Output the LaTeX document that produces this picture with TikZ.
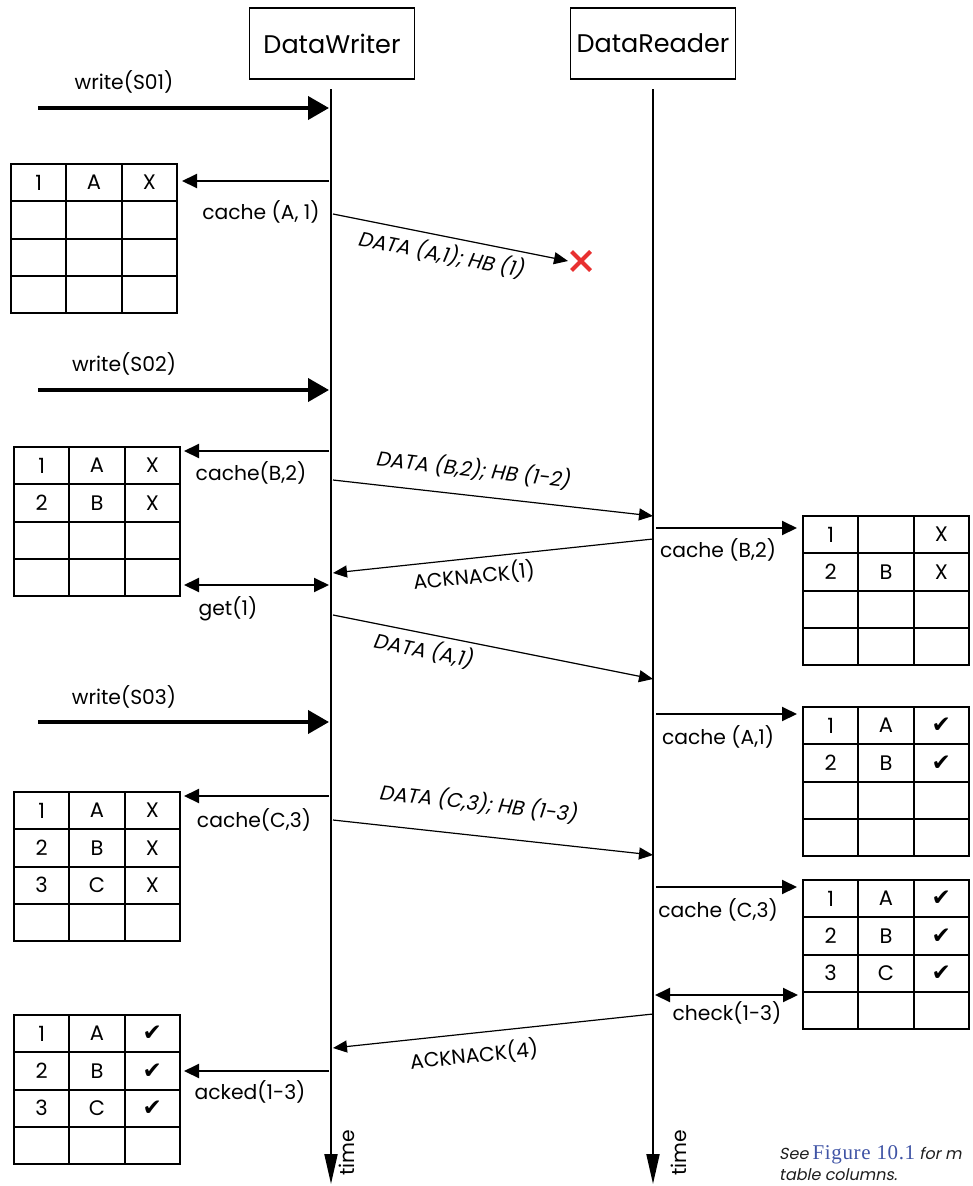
\documentclass[tikz,border=0pt]{standalone}
\usepackage{fontspec}
\setmainfont{Poppins}
\newfontfamily\slfont[FakeSlant=0.2]{Poppins}
\newfontfamily\symfont{DejaVu Sans}
\newfontfamily\figfont[LetterSpace=3]{Liberation Serif}
\usetikzlibrary{arrows.meta,calc,shapes.misc}
\definecolor{xred}{RGB}{232,48,48}
\definecolor{figblue}{RGB}{64,84,165}
\definecolor{notegray}{RGB}{30,30,30}
\newcommand{\lbl}{\fontsize{20.3}{24}\selectfont}
\newcommand{\celltxt}{\fontsize{21}{24}\selectfont}
\newcommand{\hdr}{\fontsize{25.5}{30}\selectfont}
\newcommand{\ck}{{\symfont\fontsize{23}{24}\selectfont ✔}}
\tikzset{
  every node/.style={font=\lbl},
  actor/.style={draw,line width=1.3pt,minimum width=165pt,minimum height=71pt,font=\hdr,inner sep=0pt},
  life/.style={line width=2pt,-{Triangle[length=30pt,width=13pt]}},
  warr/.style={line width=4pt,-{Triangle[length=21pt,width=23pt]}},
  carr/.style={line width=2pt,-{Triangle[length=15pt,width=14pt]}},
  darr/.style={line width=2pt,{Triangle[length=15pt,width=14pt]}-{Triangle[length=15pt,width=14pt]}},
  msg/.style={line width=1.2pt,-{Triangle[length=14pt,width=12pt]}},
  msglbl/.style={font=\lbl\slfont,inner sep=0pt},
  tabframe/.style={draw,line width=2pt,minimum width=166pt,minimum height=149pt,anchor=north west,inner sep=0pt,outer sep=0pt},
  tabline/.style={line width=2pt},
  cell/.style={inner sep=0pt,font=\celltxt},
  lost/.style={cross out,draw=xred,line width=4pt,minimum size=15pt,inner sep=0pt},
}
\newcommand{\cachetab}[3]{%
  \node[tabframe] (#1) at (#2) {};
  \foreach \k in {1,2} \draw[tabline] ($(#1.north west)+({55.33*\k},0)$) -- ($(#1.south west)+({55.33*\k},0)$);
  \foreach \k in {1,2,3} \draw[tabline] ($(#1.north west)+(0,{37.25*\k})$) -- ($(#1.north east)+(0,{37.25*\k})$);
  \foreach \a/\b/\c [count=\r] in {#3} {
    \node[cell] (#1-\r-1) at ($(#1.north west)+(27.67,{37.25*\r-18.6})$) {\a};
    \node[cell] (#1-\r-2) at ($(#1.north west)+(83,{37.25*\r-18.6})$) {\b};
    \node[cell] (#1-\r-3) at ($(#1.north west)+(138.33,{37.25*\r-18.6})$) {\c};
  }
}
\begin{document}
\begin{tikzpicture}[x=1pt,y=-1pt]
\useasboundingbox (0,0) rectangle (972,1186);
% actors
\node[actor] (W) at (332,43.5) {DataWriter};
\node[actor] (R) at (653,43.5) {DataReader};
\coordinate (wtop) at (331,89); \coordinate (wbot) at (331,1184);
\coordinate (rtop) at (653,89); \coordinate (rbot) at (653,1184);
\draw[life] (wtop) -- (wbot);
\draw[life] (rtop) -- (rbot);
\node[rotate=90] (wtime) at (347,1153) {time};
\node[rotate=90] (rtime) at (679,1153) {time};
% write calls
\coordinate (w1s) at (38,108); \coordinate (w1e) at (329,108);
\coordinate (w2s) at (38,390); \coordinate (w2e) at (329,390);
\coordinate (w3s) at (38,722); \coordinate (w3e) at (329,722);
\draw[warr] (w1s) -- (w1e);
\draw[warr] (w2s) -- (w2e);
\draw[warr] (w3s) -- (w3e);
\node (lw1) at (124,82) {write(S01)};
\node (lw2) at (124,364) {write(S02)};
\node (lw3) at (124,697) {write(S03)};
% writer tables
\cachetab{t1}{11,164}{1/A/X}
\cachetab{t2}{14,447}{1/A/X,2/B/X}
\cachetab{t3}{14,792}{1/A/X,2/B/X,3/C/X}
\cachetab{t4}{14,1015}{1/A/\ck,2/B/\ck,3/C/\ck}
\coordinate (c1s) at (329,181); \coordinate (c1e) at (182,181);
\coordinate (c2s) at (329,451); \coordinate (c2e) at (184,451);
\coordinate (c3s) at (329,796); \coordinate (c3e) at (184,796);
\coordinate (c4s) at (329,1071); \coordinate (c4e) at (184,1071);
\coordinate (g1s) at (184,585); \coordinate (g1e) at (329,585);
\draw[carr] (c1s) -- (c1e);
\draw[carr] (c2s) -- (c2e);
\draw[carr] (c3s) -- (c3e);
\draw[carr] (c4s) -- (c4e);
\draw[darr] (g1s) -- (g1e);
\node (lc1) at (261,212) {cache (A, 1)};
\node (lc2) at (251,473) {cache(B,2)};
\node (lc3) at (254,820) {cache(C,3)};
\node (lc4) at (250,1092) {acked(1-3)};
\node (lg1) at (228,609) {get(1)};
% messages
\coordinate (m1s) at (333,214); \coordinate (m1e) at (568,261);
\coordinate (m2s) at (333,480); \coordinate (m2e) at (653,516);
\coordinate (m3s) at (653,539); \coordinate (m3e) at (333,573);
\coordinate (m4s) at (333,615); \coordinate (m4e) at (653,679);
\coordinate (m5s) at (333,820); \coordinate (m5e) at (653,855);
\coordinate (m6s) at (653,1014); \coordinate (m6e) at (333,1048);
\draw[msg] (m1s) -- (m1e);
\draw[msg] (m2s) -- (m2e);
\draw[msg] (m3s) -- (m3e);
\draw[msg] (m4s) -- (m4e);
\draw[msg] (m5s) -- (m5e);
\draw[msg] (m6s) -- (m6e);
\node[lost] (x1) at (581,261) {};
\node[msglbl,rotate=-11] (lm1) at (441,254) {DATA (A,1); HB (1)};
\node[msglbl,rotate=-6.4] (lm2) at (473,469) {DATA (B,2); HB (1-2)};
\node[msglbl,rotate=6,font=\lbl] (lm3) at (474,576) {ACKNACK(1)};
\node[msglbl,rotate=-11] (lm4) at (423,650) {DATA (A,1)};
\node[msglbl,rotate=-6.4] (lm5) at (478,803) {DATA (C,3); HB (1-3)};
\node[msglbl,rotate=6,font=\lbl] (lm6) at (474,1055) {ACKNACK(4)};
% reader tables
\cachetab{r1}{803,516}{1/{}/X,2/B/X}
\cachetab{r2}{803,707}{1/A/\ck,2/B/\ck}
\cachetab{r3}{803,880}{1/A/\ck,2/B/\ck,3/C/\ck}
\coordinate (d1s) at (656,528); \coordinate (d1e) at (797,528);
\coordinate (d2s) at (656,714); \coordinate (d2e) at (797,714);
\coordinate (d3s) at (656,887); \coordinate (d3e) at (797,887);
\coordinate (k1s) at (655,995); \coordinate (k1e) at (798,995);
\draw[carr] (d1s) -- (d1e);
\draw[carr] (d2s) -- (d2e);
\draw[carr] (d3s) -- (d3e);
\draw[darr] (k1s) -- (k1e);
\node (ld1) at (718,550) {cache (B,2)};
\node (ld2) at (718,737) {cache (A,1)};
\node (ld3) at (718,910) {cache (C,3)};
\node (lk1) at (727,1013) {check(1-3)};
% note
\node[anchor=north west,align=left,inner sep=0pt,text=notegray,font=\fontsize{16}{21}\slfont] (note) at (779,1145) {See {\figfont\fontsize{21}{21}\selectfont\color{figblue}Figure 10.1} for m\\table columns.};
\end{tikzpicture}
\end{document}
